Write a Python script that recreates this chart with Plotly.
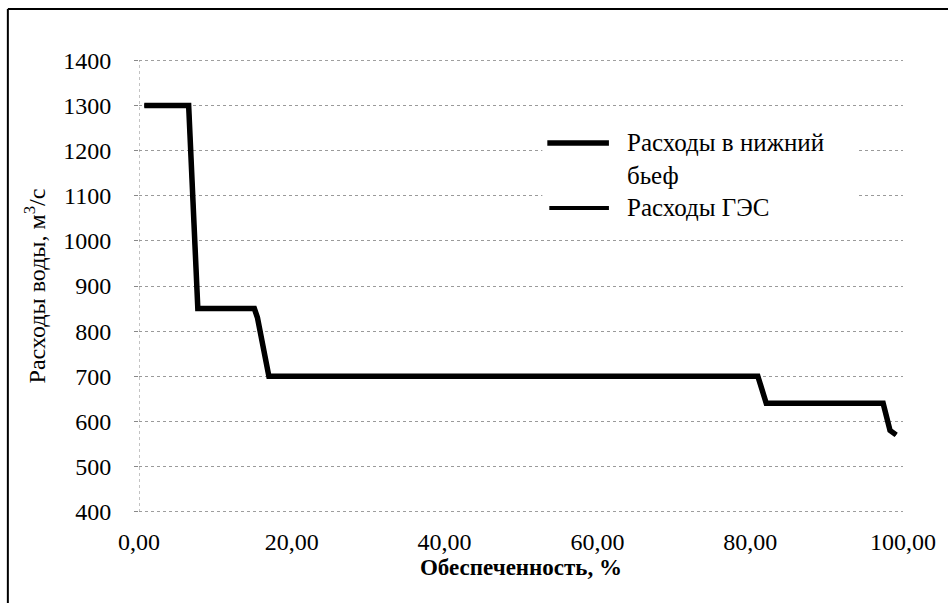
import plotly.graph_objects as go

# Data
x_pct = [0.7, 6.5, 7.7, 15.1, 15.5, 17.0, 81.0, 82.1, 97.4, 98.3, 99.1]
q_tail = [1300, 1300, 850, 850, 830, 700, 700, 640, 640, 580, 570]
q_hpp = [1300, 1300, 850, 850, 830, 700, 700, 640, 640, 580, 570]

name_tail = "Расходы в нижний<br>бьеф"
name_hpp = "Расходы ГЭС"
x_ticks = [0, 20, 40, 60, 80, 100]
x_ticktext = ["0,00", "20,00", "40,00", "60,00", "80,00", "100,00"]
y_ticks = [400, 500, 600, 700, 800, 900, 1000, 1100, 1200, 1300, 1400]

W, H = 948, 603
L, R, T, B = 139, 40, 60, 91
pw, ph = W - L - R, H - T - B

def px_x(p):
    return (p - L) / pw

def px_y(p):
    return 1 - (p - T) / ph

FONT = "'Liberation Serif', 'Times New Roman', serif"
GRID = dict(color="#9a9a9a", width=1, dash="dot")

fig = go.Figure()
fig.add_trace(go.Scatter(
    x=x_pct, y=q_hpp, name=name_hpp, mode="lines", showlegend=False,
    line=dict(color="black", width=4),
))
fig.add_trace(go.Scatter(
    x=x_pct, y=q_tail, name=name_tail, mode="lines", showlegend=False,
    line=dict(color="black", width=5.5),
))

shapes = [
    dict(type="line", xref="x", yref="paper", x0=0, x1=0, y0=0, y1=1,
         line=dict(color="#888", width=1, dash="dot"), layer="below"),
    dict(type="line", xref="paper", yref="y", x0=0, x1=1, y0=y_ticks[0], y1=y_ticks[0],
         line=GRID, layer="below"),
    dict(type="line", xref="paper", yref="y", x0=0, x1=1, y0=y_ticks[-1], y1=y_ticks[-1],
         line=GRID, layer="below"),
    dict(type="line", xref="paper", yref="paper", x0=px_x(7), x1=px_x(960),
         y0=px_y(9), y1=px_y(9), line=dict(color="black", width=2)),
    dict(type="line", xref="paper", yref="paper", x0=px_x(7), x1=px_x(7),
         y0=px_y(9), y1=px_y(620), line=dict(color="black", width=2)),
    # legend background and keys
    dict(type="rect", xref="paper", yref="paper", x0=px_x(545), x1=px_x(862),
         y0=px_y(222), y1=px_y(128), fillcolor="white", line=dict(width=0), layer="above"),
    dict(type="line", xref="paper", yref="paper", x0=px_x(550), x1=px_x(612),
         y0=px_y(143), y1=px_y(143), line=dict(color="black", width=5.5), layer="above"),
    dict(type="line", xref="paper", yref="paper", x0=px_x(552), x1=px_x(612),
         y0=px_y(208), y1=px_y(208), line=dict(color="black", width=4), layer="above"),
]

annotations = [
    dict(xref="paper", yref="paper", x=px_x(628), y=px_y(127), xanchor="left", yanchor="top",
         text=name_tail, showarrow=False, align="left",
         font=dict(size=25, family=FONT, color="black")),
    dict(xref="paper", yref="paper", x=px_x(628), y=px_y(207), xanchor="left", yanchor="middle",
         text=name_hpp, showarrow=False, align="left",
         font=dict(size=25, family=FONT, color="black")),
]

fig.update_layout(
    width=W, height=H,
    margin=dict(l=L, r=R, t=T, b=B),
    paper_bgcolor="white", plot_bgcolor="white",
    font=dict(family=FONT, color="black", size=24),
    showlegend=False,
    xaxis=dict(
        range=[0, 100], tickvals=x_ticks, ticktext=x_ticktext,
        showgrid=False, zeroline=False, showline=False,
        ticks="outside", ticklen=8, tickcolor="rgba(0,0,0,0)",
        tickfont=dict(size=24, family=FONT),
        title=dict(text="<b>Обеспеченность, %</b>", font=dict(size=23, family=FONT), standoff=0),
    ),
    yaxis=dict(
        range=[399, 1401], tickvals=y_ticks,
        showgrid=True, gridcolor="#9a9a9a", gridwidth=1, griddash="dot",
        zeroline=False, showline=False,
        ticks="outside", ticklen=4, tickcolor="#888",
        ticklabelstandoff=18,
        tickfont=dict(size=24, family=FONT),
        title=dict(text="Расходы воды, м<sup>3</sup>/с", font=dict(size=24, family=FONT), standoff=10),
    ),
    shapes=shapes,
    annotations=annotations,
)

fig.write_html("out.html", config={"displayModeBar": False},
               post_script="document.body.style.margin='0';")
